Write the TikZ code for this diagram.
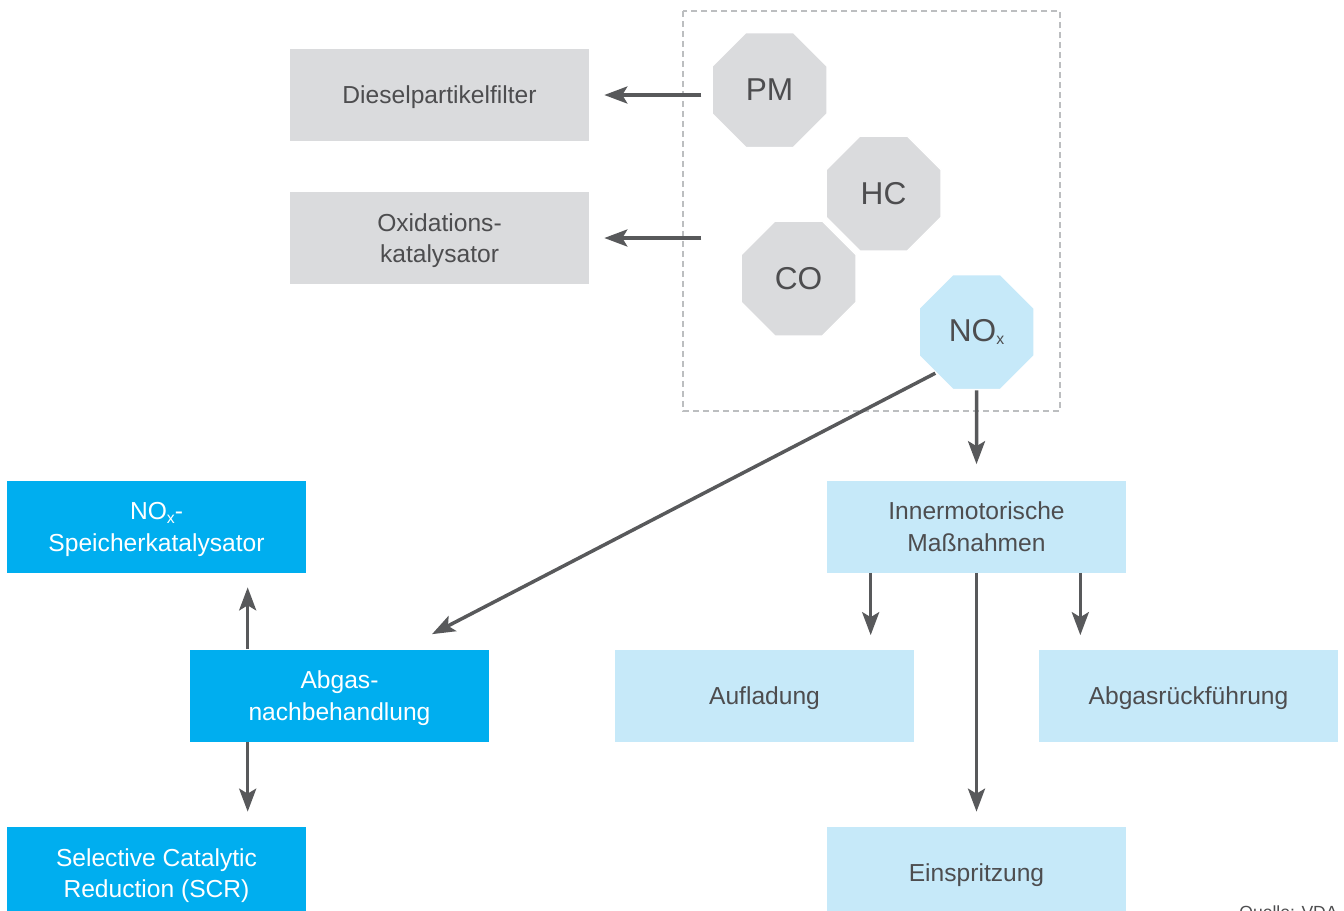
\documentclass[tikz,border=0pt]{standalone}
\usepackage{fontspec}
\setmainfont{Liberation Sans}
\usetikzlibrary{arrows.meta,calc,positioning,shapes.geometric}
\definecolor{boxgrey}{HTML}{DADBDD}
\definecolor{boxlight}{HTML}{C6E9F9}
\definecolor{boxcyan}{HTML}{00AEEF}
\definecolor{txtgrey}{HTML}{4D4D4F}
\definecolor{arrgrey}{HTML}{58595B}
\definecolor{dashgrey}{HTML}{BCBEC0}
\newcommand{\subx}{\raisebox{-2pt}{\fontsize{9}{9}\selectfont x}}

\begin{document}
\begin{tikzpicture}[x=0.02cm, y=-0.02cm, >={Stealth[length=0.46cm,width=0.34cm,inset=0.1cm]},
	every node/.style={inner sep=0pt, align=center, font=\fontsize{14}{18}\selectfont},
	box/.style={rectangle, minimum width=5.98cm, minimum height=1.84cm, text depth=0pt},
	greybox/.style={box, fill=boxgrey, text=txtgrey},
	lightbox/.style={box, fill=boxlight, text=txtgrey},
	cyanbox/.style={box, fill=boxcyan, text=white},
	octa/.style={regular polygon, regular polygon sides=8, minimum size=2.49cm, fill=boxgrey, draw=white, line width=0.03cm, text=txtgrey, font=\fontsize{18}{22}\selectfont},
	link/.style={draw=arrgrey, line width=0.07cm}]
			\useasboundingbox (0,0) rectangle (1344,910);
			% emissions
			\draw[dashgrey, line width=0.03cm, dash pattern=on 0.12cm off 0.08cm] (683,11) rectangle (1060,411);
			\node[octa] (pm) at (769.5,90) {PM};
			\node[octa] (co) at (798.5,278.5) {CO};
			\node[octa] (hc) at (883.5,193.5) {HC};
			\node[octa, fill=boxlight] (nox) at (976.5,332) {NO\subx};
			% filters
			\node[greybox] (dpf) at (439.5,95) {Dieselpartikelfilter};
			\node[greybox] (oxi) at (439.5,238) {Oxidations-\\katalysator};
			% engine measures
			\node[lightbox] (inner) at (976.5,526.5) {Innermotorische\\Maßnahmen};
			\node[lightbox] (aufl) at (764.5,695.5) {Aufladung};
			\node[lightbox] (agr) at (1188.5,695.5) {Abgasrückführung};
			\node[lightbox] (einsp) at (976.5,873) {Einspritzung};
			% after treatment
			\node[cyanbox] (agn) at (339.5,695.5) {Abgas-\\nachbehandlung};
			\node[cyanbox] (nsk) at (156.5,527) {NO\subx-\\Speicherkatalysator};
			\node[cyanbox] (scr) at (156.5,873) {Selective Catalytic\\Reduction (SCR)};
			\node[anchor=base east, font=\fontsize{10}{12}\selectfont, text=txtgrey] (src) at (1338,918) {Quelle: VDA};
			\coordinate (auflin) at ($(inner.south west)+(44,0)$);
			\coordinate (agrin) at ($(inner.south east)+(-46,0)$);
			\coordinate (agnup) at ($(agn.north west)+(58,0)$);
			\coordinate (agndn) at ($(agn.south west)+(58,0)$);
			\coordinate (agnin) at ($(agn.north)+(92.5,-15)$);
			\draw[link,->,shorten <=0.2cm,shorten >=0.3cm] (dpf.east -| pm.west) -- (dpf.east);
			\draw[link,->,shorten <=0.2cm,shorten >=0.3cm] (oxi.east -| pm.west) -- (oxi.east);
			\draw[link,->,shorten >=0.32cm] (nox.south) -- (inner.north);
			\draw[link,->] (nox.225) -- (agnin);
			\draw[link,->,shorten >=0.28cm] (auflin) -- (auflin |- aufl.north);
			\draw[link,->,shorten >=0.28cm] (agrin) -- (agrin |- agr.north);
			\draw[link,->,shorten >=0.3cm] (inner.south) -- (einsp.north);
			\draw[link,->,shorten >=0.28cm] (agnup) -- (agnup |- nsk.south);
			\draw[link,->,shorten >=0.3cm] (agndn) -- (agndn |- scr.north);
		\end{tikzpicture}
\end{document}
